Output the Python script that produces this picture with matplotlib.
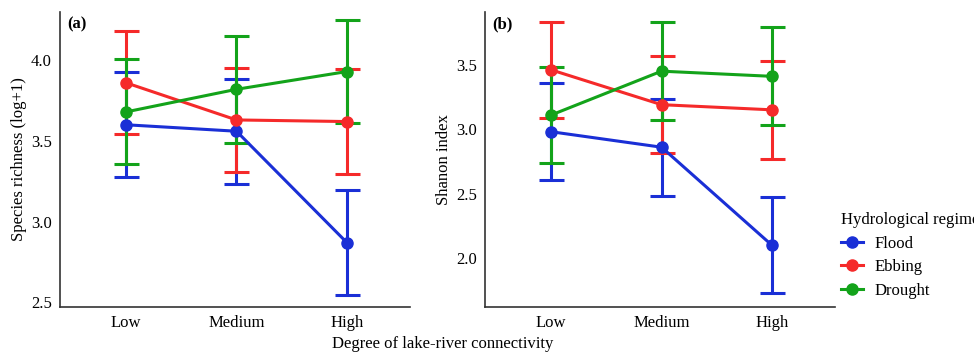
import numpy as np
import matplotlib
matplotlib.use('Agg')
import matplotlib.pyplot as plt

plt.rcParams['font.family'] = ['Liberation Serif', 'DejaVu Serif']

# Data
levels = ['Low', 'Medium', 'High']
regimes = ['Flood', 'Ebbing', 'Drought']
colors = ['#1a2fd6', '#f52a2a', '#13a31a']

# (a) species richness (log+1): means and half-widths of the error bars
rich_flood = [3.60, 3.56, 2.87]
rich_ebbing = [3.86, 3.63, 3.62]
rich_drought = [3.68, 3.82, 3.93]
rich_err_flood = [0.325, 0.325, 0.325]
rich_err_ebbing = [0.32, 0.325, 0.325]
rich_err_drought = [0.325, 0.33, 0.32]

# (b) Shannon index
shan_flood = [2.98, 2.86, 2.10]
shan_ebbing = [3.46, 3.19, 3.15]
shan_drought = [3.11, 3.45, 3.41]
shan_err_flood = [0.375, 0.375, 0.37]
shan_err_ebbing = [0.375, 0.375, 0.38]
shan_err_drought = [0.375, 0.38, 0.38]

rich_means = [rich_flood, rich_ebbing, rich_drought]
rich_errs = [rich_err_flood, rich_err_ebbing, rich_err_drought]
shan_means = [shan_flood, shan_ebbing, shan_drought]
shan_errs = [shan_err_flood, shan_err_ebbing, shan_err_drought]

fig = plt.figure(figsize=(9.74, 3.56), dpi=100)
ax1 = fig.add_axes([0.0616, 0.1376, 0.359, 0.829])
ax2 = fig.add_axes([0.498, 0.1376, 0.359, 0.829])

x = np.arange(len(levels))


def draw_panel(ax, means, errs, ylim, yticks, ylabel, tag):
    for name, m, e, c in zip(regimes, means, errs, colors):
        ax.errorbar(x, m, yerr=e, color=c, lw=2.2, marker='o', ms=8,
                    capsize=9, capthick=2.2, elinewidth=2.2, label=name)
    ax.set_xticks(x)
    ax.set_xticklabels(levels)
    ax.set_yticks(yticks)
    ax.set_yticklabels([f'{v:.1f}' for v in yticks])
    ax.set_ylim(*ylim)
    ax.set_xlim(-0.6, 2.57)
    ax.set_ylabel(ylabel, fontsize=12, labelpad=3)
    ax.tick_params(length=0, labelsize=12)
    ax.tick_params(axis='x', pad=6)
    ax.tick_params(axis='y', pad=6)
    for s in ['top', 'right']:
        ax.spines[s].set_visible(False)
    for s in ['left', 'bottom']:
        ax.spines[s].set_color('#333333')
        ax.spines[s].set_linewidth(1.2)
    ax.text(0.02, 0.985, tag, transform=ax.transAxes, fontsize=12,
            fontweight='bold', va='top', ha='left')


draw_panel(ax1, rich_means, rich_errs, (2.47, 4.3), [2.5, 3.0, 3.5, 4.0],
           'Species richness (log+1)', '(a)')
draw_panel(ax2, shan_means, shan_errs, (1.62, 3.91), [2.0, 2.5, 3.0, 3.5],
           'Shanon index', '(b)')

fig.text(0.455, 0.035, 'Degree of lake-river connectivity', ha='center',
         va='center', fontsize=12)

handles, labels = ax2.get_legend_handles_labels()
handles = [h[0] for h in handles]
leg = ax2.legend(handles, labels, title='Hydrological regime',
                 loc='center left', bbox_to_anchor=(0.975, 0.175),
                 frameon=False, fontsize=12, title_fontsize=12,
                 handlelength=1.3, handletextpad=0.7, labelspacing=0.45)
leg._legend_box.align = 'left'

fig.savefig('out.png', dpi=100)
